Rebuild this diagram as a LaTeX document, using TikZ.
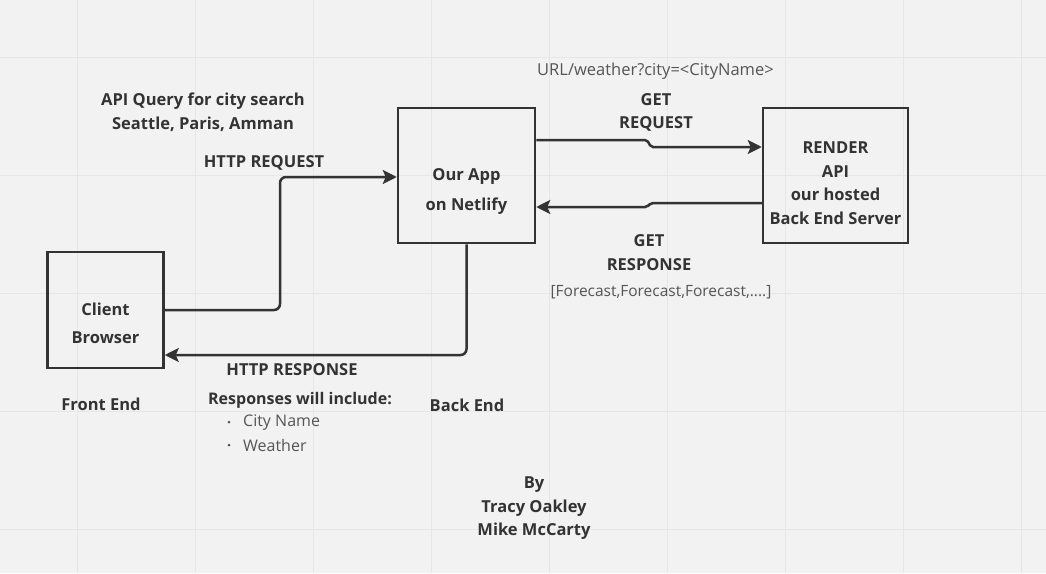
\documentclass[tikz,border=0pt]{standalone}
\usepackage{fontspec}
\setmainfont{Open Sans}
\usetikzlibrary{arrows.meta,calc}
\definecolor{bg}{HTML}{F2F2F3}
\definecolor{gridc}{HTML}{E6E6E8}
\definecolor{ink}{HTML}{333333}
\definecolor{soft}{HTML}{555555}
\tikzset{
  box/.style={draw=ink,line width=2.5pt,inner sep=0pt},
  conn/.style={draw=ink,line width=2.5pt,-{Stealth[length=14pt,width=14pt,inset=3pt]}},
  lbl/.style={text=ink,font=\fontsize{16.5}{23.5}\selectfont\bfseries,align=center,inner sep=0pt},
  reg/.style={text=soft,font=\fontsize{16}{23}\selectfont,align=center,inner sep=0pt}
}
\begin{document}
\begin{tikzpicture}[x=1pt,y=-1pt]
\fill[bg] (0,0) rectangle (1046,573);
\useasboundingbox (0,0) rectangle (1046,573);
\foreach \x in {77,195,313,431,549,667,785,903,1021} \draw[gridc,line width=1pt] (\x,0) -- (\x,573);
\foreach \y in {57,175,293,411,529} \draw[gridc,line width=1pt] (0,\y) -- (1046,\y);

% boxes
\node[box,minimum width=116pt,minimum height=116pt] (client) at (105.5,310) {};
\node[box,minimum width=137pt,minimum height=135pt] (app) at (466.5,175.5) {};
\node[box,minimum width=145pt,minimum height=135pt] (render) at (835.5,175.5) {};

\node[lbl,font=\fontsize{16.5}{28}\selectfont\bfseries] (clientt) at (105.5,323.5) {Client\\Browser};
\node[lbl,font=\fontsize{16.5}{30}\selectfont\bfseries] (appt) at (466.5,191.5) {Our App\\on Netlify};
\node[lbl] (rendert) at (835.5,183) {RENDER\\API\\our hosted\\Back End Server};

% connectors
\draw[conn,rounded corners=6pt] (client.east) -- (280,310) |- ([yshift=-1.5pt]app.west);
\draw[conn,rounded corners=6pt] (app.south) |- ([yshift=-45pt]client.east);
\draw[conn,rounded corners=2pt] ([yshift=35.5pt]app.east) -- (647,140) -- (651,147) -- ([yshift=28.5pt]render.west);
\draw[conn,rounded corners=2pt] ([yshift=-27.5pt]render.west) -- (651,203) -- (647,207) -- ([yshift=-31.5pt]app.east);

% labels
\node[reg,font=\fontsize{16.5}{23}\selectfont] (url) at (655.5,71) {URL/weather?city=<CityName>};
\node[lbl] (getreq) at (656,112.5) {GET\\REQUEST};
\node[lbl] (apiq) at (203,112) {API Query for city search\\Seattle, Paris, Amman};
\node[lbl] (httpreq) at (264,162.5) {HTTP REQUEST};
\node[lbl] (getresp) at (649,252.5) {GET\\RESPONSE};
\node[reg,font=\fontsize{15.5}{23}\selectfont] (fc) at (661,292) {[Forecast,Forecast,Forecast,....]};
\node[lbl] (httpresp) at (292,369.5) {HTTP RESPONSE};
\node[lbl] (fe) at (101,404.5) {Front End};
\node[lbl] (be) at (467,405.5) {Back End};
\node[lbl,font=\fontsize{16}{23}\selectfont\bfseries] (resp) at (300,400.5) {Responses will include:};
\node[reg,anchor=west] (b1) at (243,422.5) {City Name};
\node[reg,anchor=west] (b2) at (243,445.5) {Weather};
\fill[soft] (229,422) circle (1.5pt);
\fill[soft] (229,445) circle (1.5pt);
\node[lbl] (by) at (534,508.5) {By\\Tracy Oakley\\Mike McCarty};
\end{tikzpicture}
\end{document}
